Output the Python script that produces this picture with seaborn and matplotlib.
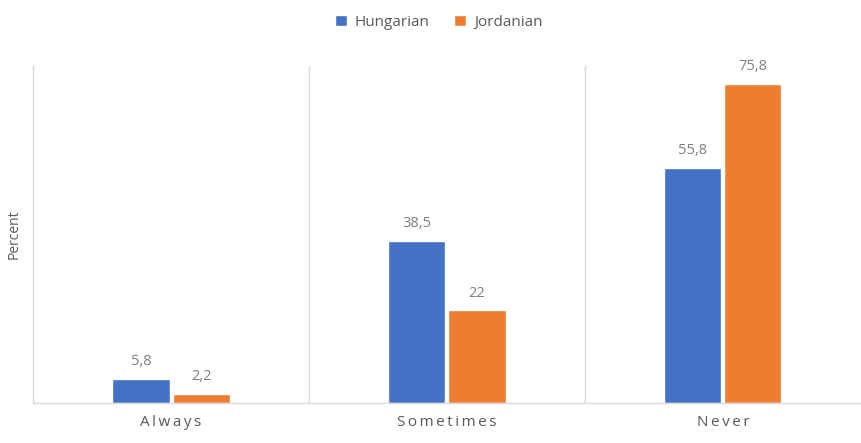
import pandas as pd
import seaborn as sns
import matplotlib.pyplot as plt

categories = ['Always', 'Sometimes', 'Never']
groups = ['Hungarian', 'Jordanian']
hungarian = [5.8, 38.5, 55.8]
jordanian = [2.2, 22.0, 75.8]
colors = ['#4472C4', '#ED7D31']

df = pd.DataFrame({
    'category': categories * 2,
    'group': [groups[0]] * 3 + [groups[1]] * 3,
    'value': hungarian + jordanian,
})

sns.set_theme(style='white')
plt.rcParams['font.family'] = ['Open Sans', 'DejaVu Sans']

fig = plt.figure(figsize=(8.62, 4.43), dpi=100)
ax = fig.add_axes([0.0383, 0.0903, 0.9605, 0.7607])

sns.barplot(data=df, x='category', y='value', hue='group', order=categories,
            hue_order=groups, palette=colors, width=0.435, gap=0.05,
            saturation=1, ax=ax, legend=True)

def fmt(v):
    s = f'{v:g}'
    return s.replace('.', ',')

for cont in ax.containers:
    ax.bar_label(cont, labels=[fmt(b.get_height()) for b in cont],
                 padding=7, color='#7f7f7f', fontsize=10.5)

ax.set_xlim(-0.5, 2.5)
ax.set_ylim(0, 80)
ax.set_yticks([])
ax.set_xlabel('')
ax.set_ylabel('Percent', color='#595959', fontsize=10, labelpad=8)
ax.tick_params(axis='x', length=0, pad=9)
ax.set_xticks(range(3))
ax.set_xticklabels(['\u2009'.join(list(c)) for c in categories],
                   color='#595959', fontsize=11)

for x in [0.5, 1.5]:
    ax.axvline(x, color='#d9d9d9', lw=1)
for side in ['top', 'right']:
    ax.spines[side].set_visible(False)
for side in ['left', 'bottom']:
    ax.spines[side].set_color('#d9d9d9')
    ax.spines[side].set_linewidth(1)

handles, labels = ax.get_legend_handles_labels()
ax.legend(handles, labels, loc='center', bbox_to_anchor=(0.49, 1.13),
          ncol=2, frameon=False, handlelength=0.8, handleheight=0.8,
          columnspacing=1.6, handletextpad=0.5,
          labelcolor='#595959', fontsize=11)

fig.savefig('out.png', dpi=100)
